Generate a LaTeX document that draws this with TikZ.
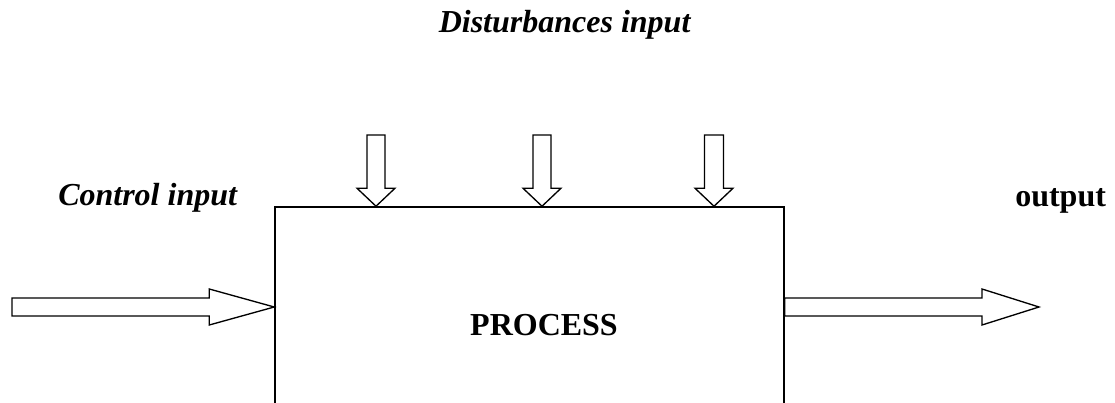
\documentclass[tikz,border=0pt]{standalone}
\usepackage{fontspec}
\setmainfont{Liberation Serif}
\usetikzlibrary{calc}

% Hollow block arrow from one named coordinate to another.
% #1 tail, #2 tip, #3 head length, #4 shaft half-width, #5 head half-width (all in px)
\newcommand\blockarrow[5]{%
  \pgfpointdiff{\pgfpointanchor{#1}{center}}{\pgfpointanchor{#2}{center}}%
  \pgfgetlastxy{\arrdx}{\arrdy}%
  \pgfmathsetmacro\arrang{atan2(\arrdy,\arrdx)}%
  \pgfmathsetmacro\arrlen{veclen(\arrdx,\arrdy)/0.75}%
  \begin{scope}[shift={(#1)}, rotate=\arrang]
    \draw[hollow] (0,-#4) -- ({\arrlen-#3},-#4) -- ({\arrlen-#3},-#5)
      -- (\arrlen,0) -- ({\arrlen-#3},#5) -- ({\arrlen-#3},#4) -- (0,#4) -- cycle;
  \end{scope}}

\tikzset{
  hollow/.style={draw=black, fill=white, line width=1pt, line join=miter},
  procbox/.style={draw=black, line width=1.15pt, minimum width=381.75pt,
    minimum height=189.75pt, inner sep=0pt},
  lbl/.style={inner sep=0pt, font=\fontsize{24}{28}\selectfont}
}

\begin{document}
\begin{tikzpicture}[x=0.75pt, y=-0.75pt]
  \useasboundingbox (0,0) rectangle (1115,403);
  \clip (0,0) rectangle (1115,403);

  % the process block (its lower edge lies below the visible area)
  \node[procbox] (process) at (529.5,333.5) {};
  \node[lbl, anchor=base] (proc) at (544,335) {\textbf{PROCESS}};

  % labels
  \node[lbl, anchor=base] (dist) at (565,33) {\textbf{\textit{Disturbances input}}};
  \node[lbl, anchor=base west] (ctrl) at (58,205) {\textbf{\textit{Control input}}};
  \node[lbl, anchor=base west] (out) at (1015,206) {\textbf{output}};

  % arrow end points
  \coordinate (ctrl-tail) at (12,307);
  \coordinate (ctrl-tip) at (process.north west |- ctrl-tail);
  \coordinate (out-tail) at (process.north east |- ctrl-tail);
  \coordinate (out-tip) at (1039,307);
  \coordinate (d1-tail) at (376,135);
  \coordinate (d2-tail) at (542,135);
  \coordinate (d3-tail) at (714,135);
  \coordinate (d1-tip) at (d1-tail |- process.north);
  \coordinate (d2-tip) at (d2-tail |- process.north);
  \coordinate (d3-tip) at (d3-tail |- process.north);

  % control input and output
  \blockarrow{ctrl-tail}{ctrl-tip}{65}{9}{18}
  \blockarrow{out-tail}{out-tip}{57}{9}{18}

  % disturbances entering from above
  \blockarrow{d1-tail}{d1-tip}{18}{9}{19}
  \blockarrow{d2-tail}{d2-tip}{18}{9}{19}
  \blockarrow{d3-tail}{d3-tip}{18}{9.5}{19}
\end{tikzpicture}
\end{document}
